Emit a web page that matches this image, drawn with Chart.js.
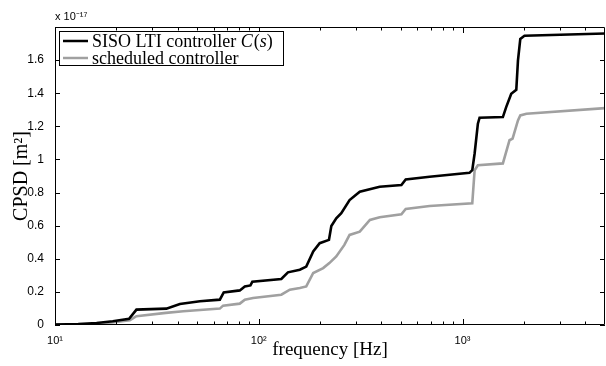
<!DOCTYPE html>
<html>
<head>
<meta charset="utf-8">
<script src="https://cdn.jsdelivr.net/npm/chart.js@4"></script>
<style>
  html, body { margin: 0; padding: 0; background: #fff; }
  #wrap { width: 606px; height: 366px; }
</style>
</head>
<body>
<div id="wrap"><canvas id="cpsdChart" width="606" height="366"></canvas></div>
<script>
// frequencies [Hz] and cumulative PSD values (in units of 1e-17 m^2)
const freqLTI = [10, 13, 16, 19.2, 23.1, 25.1, 35.2, 41, 51.4, 64.4, 67.3, 80.7, 85.4, 91, 93, 129, 139, 159,
    171, 185, 199, 221, 227, 240, 254, 279, 313, 392, 501, 526, 689, 1081, 1116, 1146, 1189, 1212, 1577, 1637,
    1733, 1835, 1870, 1920, 2013, 5000];
const cpsdLTI = [0.003, 0.006, 0.012, 0.023, 0.037, 0.093, 0.099, 0.127, 0.143, 0.153, 0.197, 0.209, 0.233,
    0.239, 0.262, 0.278, 0.318, 0.334, 0.353, 0.444, 0.494, 0.514, 0.598, 0.645, 0.675, 0.755, 0.805, 0.835,
    0.845, 0.879, 0.895, 0.919, 0.935, 1.036, 1.216, 1.252, 1.256, 1.316, 1.397, 1.421, 1.597, 1.728, 1.747, 1.761];

const freqSched = [10, 15, 19, 23.3, 25.1, 35, 42.6, 64.4, 66.8, 80.7, 85.4, 93.8, 129, 142, 159, 171, 185, 207,
    222, 240, 263, 279, 313, 351, 392, 501, 526, 689, 1116, 1146, 1189, 1577, 1700, 1760, 1870, 1920, 2058, 5000];
const cpsdSched = [0.002, 0.006, 0.015, 0.029, 0.053, 0.073, 0.083, 0.099, 0.117, 0.129, 0.153, 0.163, 0.183,
    0.213, 0.224, 0.233, 0.314, 0.344, 0.374, 0.414, 0.484, 0.544, 0.564, 0.635, 0.651, 0.669, 0.701, 0.719,
    0.735, 0.935, 0.965, 0.976, 1.116, 1.126, 1.236, 1.266, 1.276, 1.310];

const seriesNames = ['SISO LTI controller ', 'scheduled controller'];
const xMajorTicks = [10, 100, 1000];
const xMajorLabels = ['10\u00B9', '10\u00B2', '10\u00B3'];
const xMinorTicks = [20, 30, 40, 50, 60, 70, 80, 90, 200, 300, 400, 500, 600, 700, 800, 900, 2000, 3000, 4000];
const yTicks = [0, 0.2, 0.4, 0.6, 0.8, 1, 1.2, 1.4, 1.6];
const yExponent = 'x 10\u207B\u00B9\u2077';

const SERIF = '"Liberation Serif", "DejaVu Serif", serif';

function toPoints(xs, ys) {
    return xs.map((x, i) => ({ x: x, y: ys[i] }));
}

/*== box, inward ticks, exponent and legend like the matlab figure ==*/
const matlabFrame = {
    id: 'matlabFrame',
    afterDraw(chart) {
        const ctx = chart.ctx;
        const a = chart.chartArea;
        const xs = chart.scales.x;
        const ys = chart.scales.y;
        ctx.save();
        ctx.strokeStyle = '#000';
        ctx.lineWidth = 1;
        ctx.beginPath();
        ctx.rect(a.left + 0.5, a.top + 0.5, a.right - a.left - 1, a.bottom - a.top - 1);
        ctx.stroke();

        ctx.beginPath();
        xMajorTicks.concat(xMinorTicks).forEach(v => {
            const len = xMajorTicks.includes(v) ? 6 : 3.5;
            const px = Math.round(xs.getPixelForValue(v)) + 0.5;
            ctx.moveTo(px, a.bottom); ctx.lineTo(px, a.bottom - len);
            ctx.moveTo(px, a.top); ctx.lineTo(px, a.top + len);
        });
        yTicks.forEach(v => {
            const py = Math.round(ys.getPixelForValue(v)) + 0.5;
            ctx.moveTo(a.left, py); ctx.lineTo(a.left + 5, py);
            ctx.moveTo(a.right, py); ctx.lineTo(a.right - 5, py);
        });
        ctx.stroke();

        // exponent
        ctx.fillStyle = '#000';
        ctx.font = '11px "Liberation Sans", Arial, sans-serif';
        ctx.textBaseline = 'alphabetic';
        ctx.textAlign = 'left';
        ctx.fillText(yExponent, a.left, a.top - 7);

        // legend
        const lx = 59, ly = 31, lw = 225, lh = 35;
        ctx.fillStyle = '#fff';
        ctx.fillRect(lx, ly, lw, lh);
        ctx.strokeRect(lx + 0.5, ly + 0.5, lw - 1, lh - 1);
        ctx.textBaseline = 'middle';
        chart.data.datasets.forEach((ds, i) => {
            const cy = ly + 10 + i * 17;
            ctx.strokeStyle = ds.borderColor;
            ctx.lineWidth = 2.5;
            ctx.beginPath();
            ctx.moveTo(63, cy); ctx.lineTo(88, cy);
            ctx.stroke();
            ctx.fillStyle = '#000';
            let x = 92;
            const parts = i === 0
                ? [[seriesNames[i], ''], ['C', 'italic '], ['(', ''], ['s', 'italic '], [')', '']]
                : [[seriesNames[i], '']];
            parts.forEach(p => {
                ctx.font = p[1] + '18px ' + SERIF;
                ctx.fillText(p[0], x, cy + 1);
                x += ctx.measureText(p[0]).width + (p[0] === 'C' ? 1 : 0);
            });
        });
        ctx.restore();
    }
};

const ctx = document.getElementById('cpsdChart').getContext('2d');

const myChart = new Chart(ctx, {
    type: 'line',
    data: {
        datasets: [{
            label: seriesNames[0] + 'C(s)',
            data: toPoints(freqLTI, cpsdLTI),
            borderColor: '#000000',
            borderWidth: 2.6,
            pointRadius: 0,
            tension: 0
        }, {
            label: seriesNames[1],
            data: toPoints(freqSched, cpsdSched),
            borderColor: '#a0a0a0',
            borderWidth: 2.6,
            pointRadius: 0,
            tension: 0
        }]
    },
    options: {
        responsive: false,
        animation: false,
        layout: {
            padding: { top: 27, right: 1, left: 0, bottom: 0 }
        },
        scales: {
            x: {
                type: 'logarithmic',
                min: 10,
                max: 5000,
                afterBuildTicks: (scale) => {
                    scale.ticks = xMajorTicks.map(v => ({ value: v }));
                },
                afterFit: (scale) => { scale.height = 41; },
                ticks: {
                    autoSkip: false,
                    maxRotation: 0,
                    padding: 1,
                    color: '#000',
                    font: { family: '"Liberation Sans", Arial, sans-serif', size: 11 },
                    callback: (value) => xMajorLabels[xMajorTicks.indexOf(value)]
                },
                grid: { display: false },
                border: { display: false },
                title: {
                    display: true,
                    text: 'frequency [Hz]',
                    color: '#000',
                    padding: { top: 0, bottom: 5 },
                    font: { family: SERIF, size: 19 }
                }
            },
            y: {
                min: 0,
                max: 1.8,
                afterBuildTicks: (scale) => {
                    scale.ticks = yTicks.map(v => ({ value: v }));
                },
                afterFit: (scale) => { scale.width = 55; },
                ticks: {
                    autoSkip: false,
                    padding: 3,
                    color: '#000',
                    font: { family: '"Liberation Sans", Arial, sans-serif', size: 12 },
                    callback: (value) => String(Math.round(value * 10) / 10)
                },
                grid: { display: false },
                border: { display: false },
                title: {
                    display: true,
                    text: 'CPSD [m\u00B2]',
                    color: '#000',
                    padding: { top: 10, bottom: 0 },
                    font: { family: SERIF, size: 20 }
                }
            }
        },
        plugins: {
            legend: { display: false },
            tooltip: { enabled: false }
        }
    },
    plugins: [matlabFrame]
});
</script>
</body>
</html>
